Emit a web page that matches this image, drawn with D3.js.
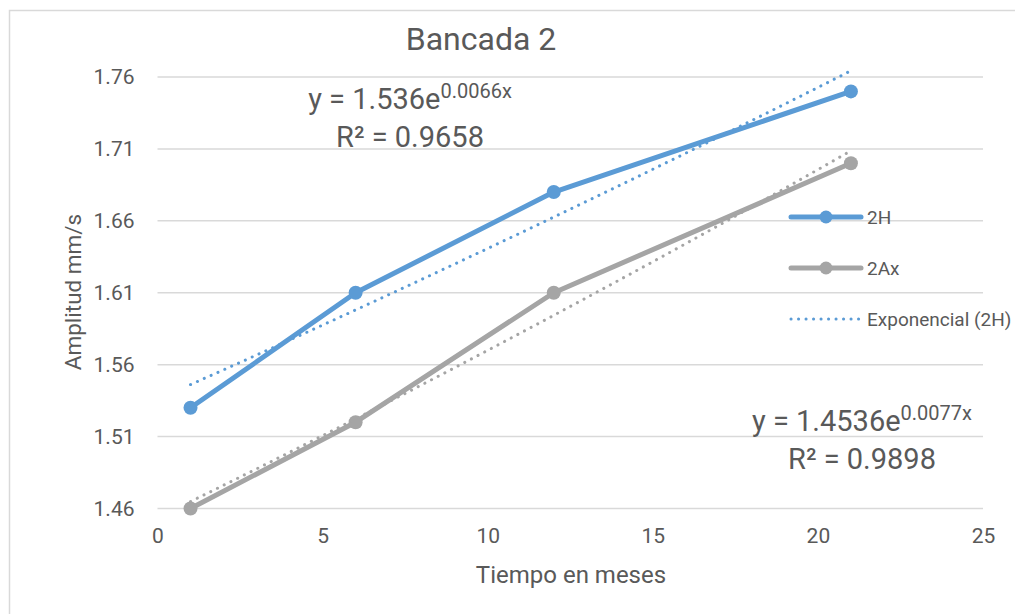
<!DOCTYPE html>
<html>
<head>
<meta charset="utf-8">
<script src="https://cdn.jsdelivr.net/npm/d3@7"></script>
<style>
  body { margin: 0; background: #fff; }
  svg text { font-family: Roboto, "Liberation Sans", sans-serif; fill: #595959; }
</style>
</head>
<body>
<div id="chart"></div>
<script>
// data
var months = [1, 6, 12, 21]
var amp2H = [1.53, 1.61, 1.68, 1.75]
var amp2Ax = [1.46, 1.52, 1.61, 1.70]
var yTicks = [1.46, 1.51, 1.56, 1.61, 1.66, 1.71, 1.76]
var xTicks = [0, 5, 10, 15, 20, 25]
// exponential trendline coefficients shown on the chart
var fit2H = { a: 1.536, b: 0.0066, r2: "0.9658" }
var fit2Ax = { a: 1.4536, b: 0.0077, r2: "0.9898" }

var width = 1015
var height = 614
var blue = "#5b9bd5"
var grey = "#a5a5a5"

var svg = d3.select("#chart").append("svg")
    .attr("width", width)
    .attr("height", height)

// chart frame
svg.append("rect")
    .attr("x", 9.5).attr("y", 10.5)
    .attr("width", 1040).attr("height", 640)
    .attr("fill", "none")
    .attr("stroke", "#d9d9d9")
    .attr("stroke-width", 1.5)

var x = d3.scaleLinear().domain([0, 25]).range([157.5, 983])
var y = d3.scaleLinear().domain([1.46, 1.76]).range([508.5, 77])

// gridlines
svg.append("g")
    .selectAll("line")
    .data(yTicks)
    .enter()
    .append("line")
    .attr("x1", x(0)).attr("x2", x(25))
    .attr("y1", function(d){ return y(d) }).attr("y2", function(d){ return y(d) })
    .attr("stroke", "#d9d9d9")
    .attr("stroke-width", 1.5)

// axes, labels only
var yAxis = svg.append("g")
    .attr("transform", "translate(" + x(0) + ",0)")
    .call(d3.axisLeft(y).tickValues(yTicks).tickFormat(d3.format(".2f")).tickSize(0).tickPadding(23))
yAxis.select(".domain").remove()
yAxis.selectAll("text").style("font-size", "21px").attr("fill", "#595959")

var xAxis = svg.append("g")
    .attr("transform", "translate(0," + y(1.46) + ")")
    .call(d3.axisBottom(x).tickValues(xTicks).tickSize(0).tickPadding(20))
xAxis.select(".domain").remove()
xAxis.selectAll("text").style("font-size", "21px").attr("fill", "#595959")

// trendlines
function trend(fit){
    return months.reduce(function(acc, m, i, arr){
        if (i == 0) return acc
        var x0 = arr[i-1]
        for (var k = 0; k <= 10; k++){
            var t = x0 + (m - x0) * k / 10
            acc.push([t, fit.a * Math.exp(fit.b * t)])
        }
        return acc
    }, [])
}
var line = d3.line()
    .x(function(d){ return x(d[0]) })
    .y(function(d){ return y(d[1]) })

// series
var series = [
    { name: "2H", vals: amp2H, color: blue, fit: fit2H },
    { name: "2Ax", vals: amp2Ax, color: grey, fit: fit2Ax }
]
series.forEach(function(s){
    var pts = months.map(function(m, i){ return [m, s.vals[i]] })
    svg.append("path")
        .attr("d", line(pts))
        .attr("fill", "none")
        .attr("stroke", s.color)
        .attr("stroke-width", 5)
        .attr("stroke-linejoin", "round")
    svg.append("g").selectAll("circle")
        .data(pts)
        .enter()
        .append("circle")
        .attr("cx", function(d){ return x(d[0]) })
        .attr("cy", function(d){ return y(d[1]) })
        .attr("r", 7)
        .attr("fill", s.color)
})
series.forEach(function(s){
    svg.append("path")
        .attr("d", line(trend(s.fit)))
        .attr("fill", "none")
        .attr("stroke", s.color)
        .attr("stroke-width", 3)
        .attr("stroke-linecap", "round")
        .attr("stroke-dasharray", "0.1 7.4")
})

// title and axis titles
svg.append("text")
    .attr("x", 481).attr("y", 50)
    .attr("text-anchor", "middle")
    .style("font-size", "32px")
    .text("Bancada 2")

svg.append("text")
    .attr("transform", "translate(81,292) rotate(-90)")
    .attr("text-anchor", "middle")
    .style("font-size", "22.5px")
    .text("Amplitud mm/s")

svg.append("text")
    .attr("x", 571).attr("y", 583)
    .attr("text-anchor", "middle")
    .style("font-size", "24px")
    .text("Tiempo en meses")

// trendline equations
function equation(fit, cx, by){
    var t = svg.append("text")
        .attr("x", cx).attr("y", by)
        .attr("text-anchor", "middle")
        .style("font-size", "29px")
    t.append("tspan").text("y = " + fit.a + "e")
    t.append("tspan").attr("dy", -11).style("font-size", "20px").text(fit.b + "x")
    svg.append("text")
        .attr("x", cx).attr("y", by + 38)
        .attr("text-anchor", "middle")
        .style("font-size", "29px")
        .text("R\u00b2 = " + fit.r2)
}
equation(fit2H, 410, 109)
equation(fit2Ax, 862, 431)

// legend
var legend = [
    { name: "2H", color: blue, kind: "line" },
    { name: "2Ax", color: grey, kind: "line" },
    { name: "Exponencial (2H)", color: blue, kind: "dot" }
]
var lg = svg.append("g").selectAll("g")
    .data(legend)
    .enter()
    .append("g")
    .attr("transform", function(d, i){ return "translate(0," + (217 + i * 51) + ")" })
lg.append("line")
    .attr("x1", 791).attr("x2", 861)
    .attr("stroke", function(d){ return d.color })
    .attr("stroke-width", function(d){ return d.kind == "line" ? 5 : 3 })
    .attr("stroke-linecap", "round")
    .attr("stroke-dasharray", function(d){ return d.kind == "line" ? null : "0.1 7.4" })
lg.filter(function(d){ return d.kind == "line" })
    .append("circle")
    .attr("cx", 826).attr("r", 6.5)
    .attr("fill", function(d){ return d.color })
lg.append("text")
    .attr("x", 867).attr("y", 7)
    .style("font-size", "19px")
    .text(function(d){ return d.name })
</script>
</body>
</html>
